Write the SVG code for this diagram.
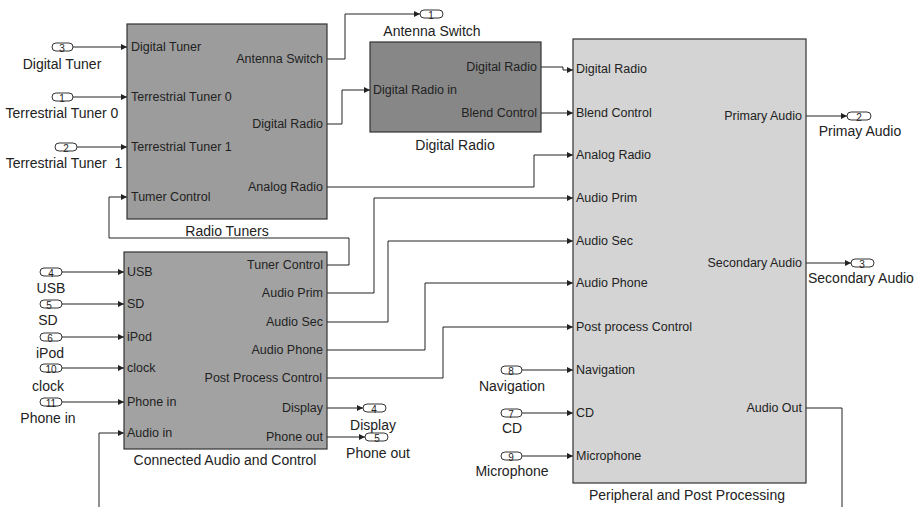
<svg xmlns="http://www.w3.org/2000/svg" width="916" height="507" viewBox="0 0 916 507">
<style>
text{font-family:"Liberation Sans",Arial,sans-serif;font-size:12.5px;fill:#222}
.in{text-anchor:start}
.out{text-anchor:end}
.mid{text-anchor:middle}
.lbl{font-size:14px}
.num{font-size:10px;text-anchor:middle}
.blk{stroke:#333;stroke-width:1.2}
.port{fill:#fff;stroke:#333;stroke-width:1}
.wire{fill:none;stroke:#222;stroke-width:1}
.arr{marker-end:url(#ah)}
</style>
<defs>
<marker id="ah" markerUnits="userSpaceOnUse" markerWidth="7" markerHeight="7" refX="6" refY="3" orient="auto">
<path d="M0,0 L6,3 L0,6 z" fill="#222"/>
</marker>
</defs>
<rect width="916" height="507" fill="#fff"/>

<g id="connectors">
<path class="wire arr" d="M73,47 H127"/>
<path class="wire arr" d="M73,97 H127"/>
<path class="wire arr" d="M77,147 H127"/>
<path class="wire arr" d="M327,265 H349 V238 H109 V197 H127"/>
<path class="wire arr" d="M327,59 H345 V14 H420"/>
<path class="wire arr" d="M327,124 H342 V90 H370"/>
<path class="wire arr" d="M327,187 H534 V155 H573"/>
<path class="wire arr" d="M541,67 H563 V70 H573"/>
<path class="wire arr" d="M541,113 H573"/>
<path class="wire arr" d="M327,293 H374 V198 H573"/>
<path class="wire arr" d="M327,322 H388 V241 H573"/>
<path class="wire arr" d="M327,350 H425 V283 H573"/>
<path class="wire arr" d="M327,378 H443 V327 H573"/>
<path class="wire arr" d="M327,408 H363"/>
<path class="wire arr" d="M327,437 H365"/>
<path class="wire arr" d="M62,272 H124"/>
<path class="wire arr" d="M62,304 H124"/>
<path class="wire arr" d="M62,337 H124"/>
<path class="wire arr" d="M62,368 H124"/>
<path class="wire arr" d="M62,402 H124"/>
<path class="wire arr" d="M99,507 V433 H124"/>
<path class="wire arr" d="M522,370 H573"/>
<path class="wire arr" d="M522,413 H573"/>
<path class="wire arr" d="M522,456 H573"/>
<path class="wire arr" d="M806,116 H847"/>
<path class="wire arr" d="M806,263 H851"/>
<path class="wire" d="M806,408 H842 V507"/>
</g>

<g id="radio-tuners">
<rect class="blk" x="127" y="24" width="200" height="195" fill="#9c9c9c"/>
<text class="in" x="131" y="51">Digital Tuner</text>
<text class="in" x="131" y="101">Terrestrial Tuner 0</text>
<text class="in" x="131" y="151">Terrestrial Tuner 1</text>
<text class="in" x="131" y="201">Tumer Control</text>
<text class="out" x="323" y="63">Antenna Switch</text>
<text class="out" x="323" y="128">Digital Radio</text>
<text class="out" x="323" y="191">Analog Radio</text>
<text class="mid lbl" x="227" y="236">Radio Tuners</text>
</g>

<g id="digital-radio">
<rect class="blk" x="370" y="42" width="171" height="90" fill="#878787"/>
<text class="in" x="373" y="94">Digital Radio in</text>
<text class="out" x="537" y="71">Digital Radio</text>
<text class="out" x="537" y="117">Blend Control</text>
<text class="mid lbl" x="455" y="150">Digital Radio</text>
</g>

<g id="connected-audio">
<rect class="blk" x="124" y="252" width="203" height="197" fill="#a2a2a2"/>
<text class="in" x="127" y="276">USB</text>
<text class="in" x="127" y="308">SD</text>
<text class="in" x="127" y="341">iPod</text>
<text class="in" x="127" y="372">clock</text>
<text class="in" x="127" y="406">Phone in</text>
<text class="in" x="127" y="437">Audio in</text>
<text class="out" x="323" y="269">Tuner Control</text>
<text class="out" x="323" y="297">Audio Prim</text>
<text class="out" x="323" y="326">Audio Sec</text>
<text class="out" x="323" y="354">Audio Phone</text>
<text class="out" x="322" y="382">Post Process Control</text>
<text class="out" x="323" y="412">Display</text>
<text class="out" x="323" y="441">Phone out</text>
<text class="mid lbl" x="225" y="465">Connected Audio and Control</text>
</g>

<g id="peripheral">
<rect class="blk" x="573" y="39" width="233" height="444" fill="#d4d4d4"/>
<text class="in" x="576" y="73">Digital Radio</text>
<text class="in" x="576" y="117">Blend Control</text>
<text class="in" x="576" y="159">Analog Radio</text>
<text class="in" x="576" y="202">Audio Prim</text>
<text class="in" x="576" y="245">Audio Sec</text>
<text class="in" x="576" y="287">Audio Phone</text>
<text class="in" x="576" y="331">Post process Control</text>
<text class="in" x="576" y="374">Navigation</text>
<text class="in" x="576" y="417">CD</text>
<text class="in" x="576" y="460">Microphone</text>
<text class="out" x="802" y="120">Primary Audio</text>
<text class="out" x="802" y="267">Secondary Audio</text>
<text class="out" x="802" y="412">Audio Out</text>
<text class="mid lbl" x="687" y="500">Peripheral and Post Processing</text>
</g>

<g id="in-digital-tuner">
<rect class="port" x="52" y="43" width="21" height="8" rx="4"/>
<text class="num" x="62" y="52">3</text>
<text class="mid lbl" x="62" y="69">Digital Tuner</text>
</g>
<g id="in-terr0">
<rect class="port" x="52" y="93" width="21" height="8" rx="4"/>
<text class="num" x="62" y="102">1</text>
<text class="mid lbl" x="62" y="118">Terrestrial Tuner 0</text>
</g>
<g id="in-terr1">
<rect class="port" x="55" y="143" width="22" height="8" rx="4"/>
<text class="num" x="66" y="152">2</text>
<text class="mid lbl" x="64" y="168" xml:space="preserve">Terrestrial Tuner  1</text>
</g>
<g id="out-antenna">
<rect class="port" x="420" y="10" width="23" height="8" rx="4"/>
<text class="num" x="431" y="19">1</text>
<text class="mid lbl" x="432" y="36">Antenna Switch</text>
</g>
<g id="in-usb">
<rect class="port" x="40" y="268" width="22" height="8" rx="4"/>
<text class="num" x="51" y="277">4</text>
<text class="mid lbl" x="51" y="293">USB</text>
</g>
<g id="in-sd">
<rect class="port" x="40" y="300" width="22" height="8" rx="4"/>
<text class="num" x="49" y="309">5</text>
<text class="mid lbl" x="48" y="325">SD</text>
</g>
<g id="in-ipod">
<rect class="port" x="40" y="333" width="22" height="8" rx="4"/>
<text class="num" x="50" y="342">6</text>
<text class="mid lbl" x="50" y="358">iPod</text>
</g>
<g id="in-clock">
<rect class="port" x="40" y="364" width="22" height="8" rx="4"/>
<text class="num" x="51" y="373">10</text>
<text class="mid lbl" x="48" y="391">clock</text>
</g>
<g id="in-phone">
<rect class="port" x="40" y="398" width="22" height="8" rx="4"/>
<text class="num" x="51" y="407">11</text>
<text class="mid lbl" x="48" y="423">Phone in</text>
</g>
<g id="out-display">
<rect class="port" x="363" y="404" width="23" height="8" rx="4"/>
<text class="num" x="374" y="413">4</text>
<text class="mid lbl" x="373" y="430">Display</text>
</g>
<g id="out-phone">
<rect class="port" x="365" y="433" width="23" height="8" rx="4"/>
<text class="num" x="377" y="442">5</text>
<text class="mid lbl" x="378" y="458">Phone out</text>
</g>
<g id="in-navigation">
<rect class="port" x="501" y="366" width="21" height="8" rx="4"/>
<text class="num" x="511" y="375">8</text>
<text class="mid lbl" x="512" y="391">Navigation</text>
</g>
<g id="in-cd">
<rect class="port" x="501" y="409" width="21" height="8" rx="4"/>
<text class="num" x="511" y="418">7</text>
<text class="mid lbl" x="512" y="433">CD</text>
</g>
<g id="in-microphone">
<rect class="port" x="501" y="452" width="21" height="8" rx="4"/>
<text class="num" x="511" y="461">9</text>
<text class="mid lbl" x="512" y="476">Microphone</text>
</g>
<g id="out-primary">
<rect class="port" x="847" y="112" width="24" height="8" rx="4"/>
<text class="num" x="859" y="121">2</text>
<text class="mid lbl" x="860" y="136">Primay Audio</text>
</g>
<g id="out-secondary">
<rect class="port" x="851" y="259" width="23" height="8" rx="4"/>
<text class="num" x="862" y="268">3</text>
<text class="in lbl" x="808" y="283">Secondary Audio</text>
</g>
</svg>
